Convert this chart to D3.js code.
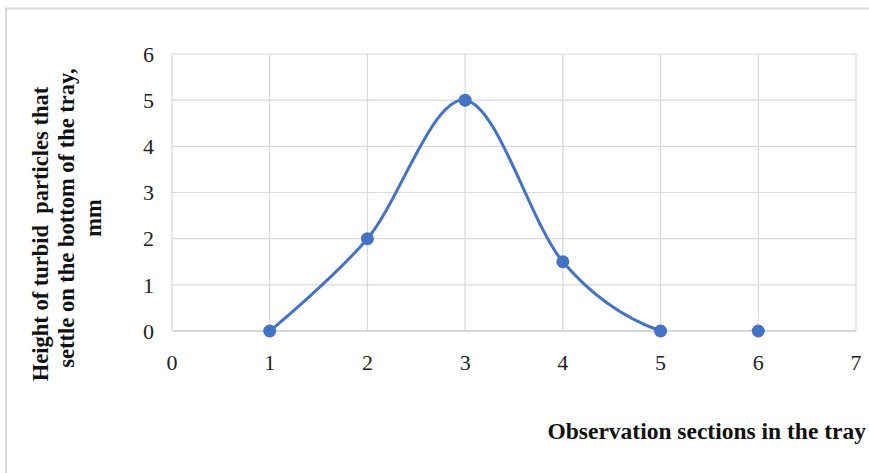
<!DOCTYPE html>
<html>
<head>
<meta charset="utf-8">
<script src="https://cdn.jsdelivr.net/npm/d3@7"></script>
<style>
  body { margin: 0; background: #fff; }
  svg { display: block; font-family: "Liberation Serif", "Times New Roman", serif; }
</style>
</head>
<body>
<svg id="chart" width="869" height="473"></svg>
<script>
const sections = [1, 2, 3, 4, 5, 6];
const heights = [0, 2, 5, 1.5, 0, 0];
const xTicks = [0, 1, 2, 3, 4, 5, 6, 7];
const yTicks = [0, 1, 2, 3, 4, 5, 6];
const yTitleLines = ["Height of turbid  particles that", "settle on the bottom of the tray,", "mm"];
const xTitle = "Observation sections in the tray";

const svg = d3.select("#chart");
const W = 869, H = 473;
const plot = { left: 172, right: 856, top: 54, bottom: 331 };

// outer frame (only top and left edges visible in the crop)
svg.append("line").attr("x1", 6).attr("x2", W).attr("y1", 8.5).attr("y2", 8.5).attr("stroke", "#d9d9d9").attr("stroke-width", 2);
svg.append("line").attr("x1", 6).attr("x2", 6).attr("y1", 8).attr("y2", H).attr("stroke", "#d9d9d9").attr("stroke-width", 2);

const x = d3.scaleLinear().domain([0, 7]).range([plot.left, plot.right]);
const y = d3.scaleLinear().domain([0, 6]).range([plot.bottom, plot.top]);

const g = svg.append("g");

// gridlines
g.selectAll(".hgrid").data(yTicks).join("line")
  .attr("x1", plot.left).attr("x2", plot.right)
  .attr("y1", d => y(d)).attr("y2", d => y(d))
  .attr("stroke", "#d9d9d9").attr("stroke-width", 1.2);
g.selectAll(".vgrid").data(xTicks).join("line")
  .attr("x1", d => x(d)).attr("x2", d => x(d))
  .attr("y1", plot.top).attr("y2", plot.bottom)
  .attr("stroke", "#d9d9d9").attr("stroke-width", 1.2);

// axis line at y=0
g.append("line").attr("x1", plot.left).attr("x2", plot.right)
  .attr("y1", y(0)).attr("y2", y(0)).attr("stroke", "#d0d0d0").attr("stroke-width", 1.5);

// tick labels
g.selectAll(".ylab").data(yTicks).join("text")
  .attr("x", plot.left - 18).attr("y", d => y(d)).attr("dy", "0.35em")
  .attr("text-anchor", "end").attr("font-size", 22).attr("fill", "#222")
  .text(d => d);
g.selectAll(".xlab").data(xTicks).join("text")
  .attr("x", d => x(d)).attr("y", plot.bottom + 31).attr("dy", "0.35em")
  .attr("text-anchor", "middle").attr("font-size", 22).attr("fill", "#222")
  .text(d => d);

// clip to plot area
svg.append("defs").append("clipPath").attr("id", "plotclip")
  .append("rect").attr("x", plot.left).attr("y", plot.top - 10)
  .attr("width", plot.right - plot.left).attr("height", plot.bottom - plot.top + 10);

const pts = sections.map((s, i) => [s, heights[i]]);
const line = d3.line().x(d => x(d[0])).y(d => y(d[1])).curve(d3.curveCardinal.tension(0));

g.append("path").datum(pts)
  .attr("clip-path", "url(#plotclip)")
  .attr("d", line).attr("fill", "none")
  .attr("stroke", "#4472c4").attr("stroke-width", 3);

g.selectAll(".pt").data(pts).join("circle")
  .attr("cx", d => x(d[0])).attr("cy", d => y(d[1])).attr("r", 6.5)
  .attr("fill", "#4472c4");

// axis titles
svg.append("text").attr("x", 866).attr("y", 439).attr("text-anchor", "end")
  .attr("font-size", 23.5).attr("font-weight", "bold").attr("fill", "#111")
  .text(xTitle);

// y title, one rotated text per line (first line sits a little lower in the original)
const lineCenters = [[40, 234], [66, 218], [93, 218]];
yTitleLines.forEach((t, i) => {
  svg.append("text")
    .attr("transform", `translate(${lineCenters[i][0]},${lineCenters[i][1]}) rotate(-90)`)
    .attr("dy", "0.35em")
    .attr("text-anchor", "middle").attr("font-size", 22.5).attr("font-weight", "bold").attr("fill", "#111")
    .style("white-space", "pre")
    .text(t);
});
</script>
</body>
</html>
